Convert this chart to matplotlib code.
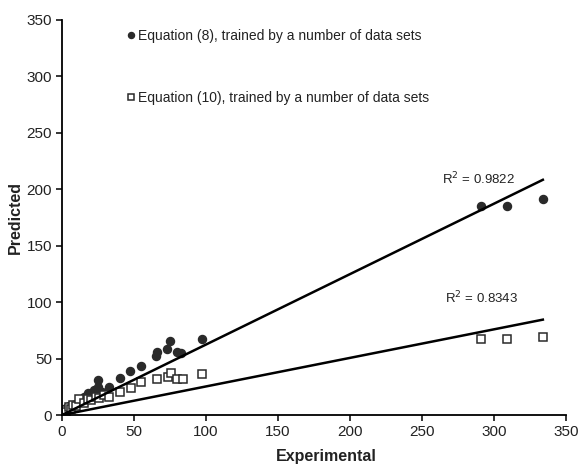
import matplotlib
matplotlib.use("Agg")
import matplotlib.pyplot as plt
import numpy as np

plt.rcParams['font.family'] = ['Liberation Sans', 'DejaVu Sans']

# equation (8) points
eq8_x = [0.5, 1, 2, 3, 4, 5, 6, 8, 10, 12, 15, 18, 20, 22, 25, 25, 28, 33,
         40, 47, 55, 65, 66, 73, 75, 80, 83, 97, 291, 309, 334]
eq8_y = [2, 4, 3, 6, 5, 8, 7, 9, 10, 12, 16, 19.5, 17, 22, 31, 24.5, 20, 25,
         33, 39, 43, 52, 55.5, 58.5, 65.6, 56, 55, 67, 185, 185, 191]

# equation (10) points
eq10_x = [0, 1, 2, 3, 5, 6, 8, 10, 12, 15, 18, 20, 24, 26, 29, 33,
          40, 47.7, 55, 66, 74, 75.5, 80, 84, 97, 291, 309, 334]
eq10_y = [0, 2, 4, 3, 7, 5, 9, 8, 14, 11, 14, 13, 16, 15, 18, 16,
          20, 24, 29.5, 32, 33.4, 37, 32, 32, 36, 67, 67, 69.4]

# trend lines (slope, intercept) and R2 labels
trend8 = (0.624, 0.0)
trend10 = (0.253, 0.0)
r2_8 = "R$^2$ = 0.9822"
r2_10 = "R$^2$ = 0.8343"

fig = plt.figure(figsize=(5.84, 4.65), dpi=100)
ax = fig.add_axes([0.106, 0.1075, 0.863, 0.8495])

ax.plot(eq8_x, eq8_y, 'o', color='#2a2a2a', ms=5.8, ls='none',
        label='Equation (8), trained by a number of data sets')
ax.plot(eq10_x, eq10_y, 's', mfc='white', mec='#2a2a2a', mew=1.1, ms=6.3,
        ls='none', label='Equation (10), trained by a number of data sets')

xl = np.array([0, max(eq8_x)])
ax.plot(xl, trend8[0] * xl + trend8[1], color='black', lw=1.8)
ax.plot(xl, trend10[0] * xl + trend10[1], color='black', lw=1.8)

ax.text(264, 209, r2_8, fontsize=9.5, va='center', ha='left', color='#222222')
ax.text(266, 104, r2_10, fontsize=9.5, va='center', ha='left', color='#222222')

ax.set_xlim(0, 350)
ax.set_ylim(0, 350)
ax.set_xticks(range(0, 351, 50))
ax.set_yticks(range(0, 351, 50))
for s in ['top', 'right']:
    ax.spines[s].set_visible(False)
for s in ['left', 'bottom']:
    ax.spines[s].set_linewidth(1.3)
ax.tick_params(direction='out', length=4, width=1.1, labelsize=11,
               labelcolor='#222222', pad=3)

ax.set_xlabel('Experimental', fontsize=11.5, fontweight='bold', color='#222222')
ax.set_ylabel('Predicted', fontsize=11.5, fontweight='bold', color='#222222')
ax.xaxis.set_label_coords(0.524, -0.104)
ax.yaxis.set_label_coords(-0.093, 0.5)
ax.xaxis.label.set_va('center')
ax.yaxis.label.set_va('center')

ax.legend(loc='upper left', bbox_to_anchor=(0.105, 1.008), frameon=False,
          labelspacing=3.4, handlelength=0.5, handletextpad=0.3,
          markerscale=0.75, fontsize=10, labelcolor='#222222')

fig.savefig('out.png', dpi=100)
